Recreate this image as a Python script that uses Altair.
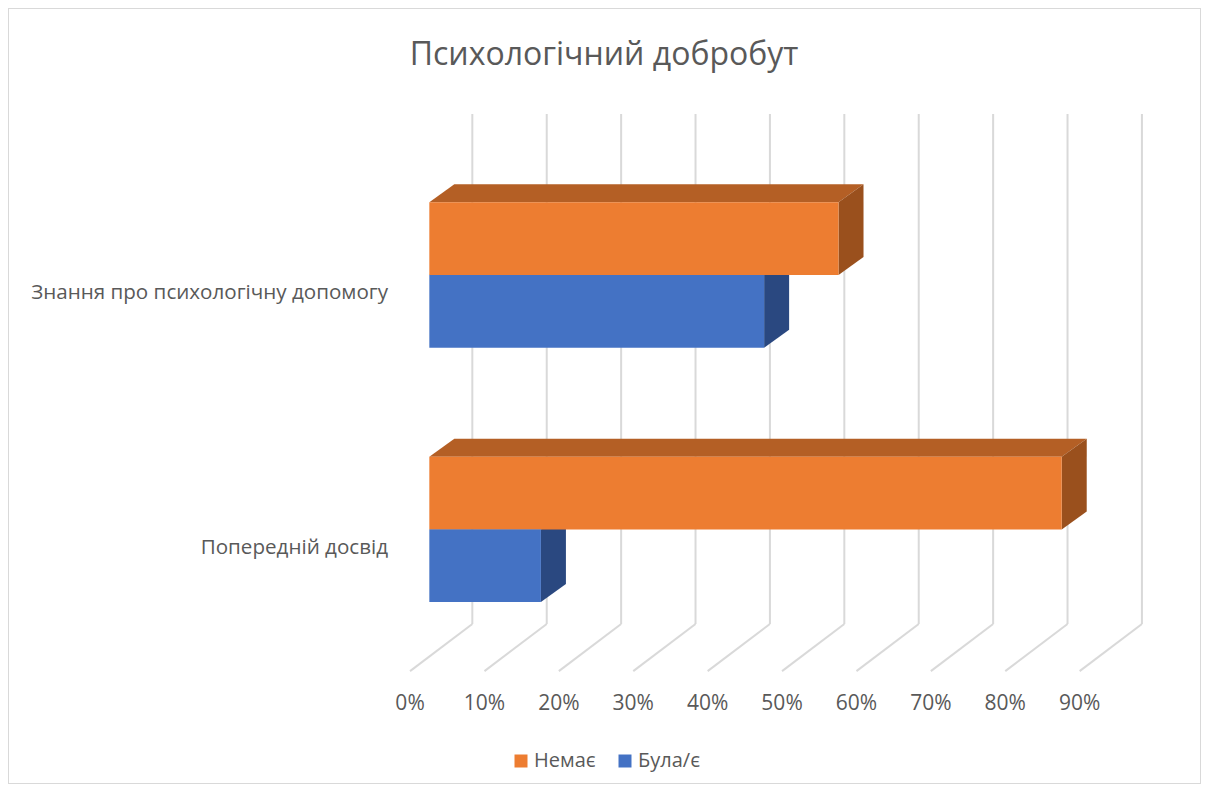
import altair as alt
import pandas as pd

# ---- data ----
categories = ["Знання про психологічну допомогу", "Попередній досвід"]
series = ["Немає", "Була/є"]
nemae = [55, 85]
bula_ye = [45, 15]
tick_values = [0, 10, 20, 30, 40, 50, 60, 70, 80, 90]
tick_labels = [f"{t}%" for t in tick_values]
title_text = "Психологічний добробут"

# ---- styling / layout constants ----
front_colors = {"Немає": "#ED7D31", "Була/є": "#4472C4"}
top_colors = {"Немає": "#B45F25", "Була/є": "#35599C"}
side_colors = {"Немає": "#9A501D", "Була/є": "#2A4880"}
TEXT = "#595959"
GRID = "#D9D9D9"
FONT = "Open Sans"

BAR_H = 0.2858      # bar thickness in category units
DXV = 3.36          # 3D depth offset along x (percent units)
DYU = 0.0708        # 3D depth offset along y (category units, upward)
GX_BACK = 5.78      # back-wall offset of gridlines
GX_FRONT = -2.59    # floor-front offset
WALL_TOP = -0.633
WALL_BOT = 1.372
FLOOR_FRONT = 1.557
TICK_BASE = 1.71
CAT_LABEL_X = -5.55
CAT_LABEL_DY = 0.0955

x_scale = alt.Scale(domain=[-56.63, 103.72], nice=False, zero=False)
y_scale = alt.Scale(domain=[-1.0495, 2.0008], nice=False, zero=False, reverse=True)

# ---- build tables ----
bars, tops, sides = [], [], []
for i, cat in enumerate(categories):
    for s, vals in zip(series, [nemae, bula_ye]):
        v = vals[i]
        if s == "Немає":
            ut, ub = i - BAR_H, i
        else:
            ut, ub = i, i + BAR_H
        bid = f"{i}-{s}"
        bars.append(dict(id=bid, series=s, category=cat, value=v, x0=0, x1=v, ut=ut, ub=ub))
        tops.append(dict(id=bid, fc=top_colors[s], u=ut, xa=0, xb=v))
        tops.append(dict(id=bid, fc=top_colors[s], u=ut - DYU, xa=DXV, xb=v + DXV))
        sides.append(dict(id=bid, fc=side_colors[s], x=v, ya=ut, yb=ub))
        sides.append(dict(id=bid, fc=side_colors[s], x=v + DXV, ya=ut - DYU, yb=ub - DYU))

bars_df = pd.DataFrame(bars)
tops_df = pd.DataFrame(tops)
sides_df = pd.DataFrame(sides)

grid_df = pd.DataFrame({
    "t": tick_values,
    "label": tick_labels,
    "xb": [t + GX_BACK for t in tick_values],
    "xf": [t + GX_FRONT for t in tick_values],
    "wt": WALL_TOP, "wb": WALL_BOT, "ff": FLOOR_FRONT, "tb": TICK_BASE,
})

cat_df = pd.DataFrame({
    "category": categories,
    "x": CAT_LABEL_X,
    "u": [i + CAT_LABEL_DY for i in range(len(categories))],
})

# ---- layers ----
wall = alt.Chart(grid_df).mark_rule(color=GRID, strokeWidth=2).encode(
    x=alt.X("xb:Q", scale=x_scale, axis=None),
    y=alt.Y("wt:Q", scale=y_scale, axis=None),
    y2="wb:Q",
)
floor = alt.Chart(grid_df).mark_rule(color=GRID, strokeWidth=2).encode(
    x=alt.X("xb:Q", scale=x_scale, axis=None),
    x2="xf:Q",
    y=alt.Y("wb:Q", scale=y_scale, axis=None),
    y2="ff:Q",
)
tick_text = alt.Chart(grid_df).mark_text(
    font=FONT, fontSize=21, color=TEXT, align="center", baseline="alphabetic"
).encode(
    x=alt.X("xf:Q", scale=x_scale, axis=None),
    y=alt.Y("tb:Q", scale=y_scale, axis=None),
    text="label:N",
)

top_faces = alt.Chart(tops_df).mark_area(orient="horizontal", opacity=1).encode(
    y=alt.Y("u:Q", scale=y_scale, axis=None, stack=None),
    x=alt.X("xa:Q", scale=x_scale, axis=None, stack=None),
    x2="xb:Q",
    fill=alt.Fill("fc:N", scale=None),
    detail="id:N",
)
side_faces = alt.Chart(sides_df).mark_area(orient="vertical", opacity=1).encode(
    x=alt.X("x:Q", scale=x_scale, axis=None, stack=None),
    y=alt.Y("ya:Q", scale=y_scale, axis=None, stack=None),
    y2="yb:Q",
    fill=alt.Fill("fc:N", scale=None),
    detail="id:N",
)
front_faces = alt.Chart(bars_df).mark_rect(opacity=1).encode(
    x=alt.X("x0:Q", scale=x_scale, axis=None),
    x2="x1:Q",
    y=alt.Y("ut:Q", scale=y_scale, axis=None),
    y2="ub:Q",
    color=alt.Color(
        "series:N",
        scale=alt.Scale(domain=series, range=[front_colors[s] for s in series]),
        legend=alt.Legend(
            title=None, orient="none", legendX=503, legendY=743,
            direction="horizontal", symbolType="square", symbolSize=169,
            symbolStrokeWidth=0, labelFont=FONT, labelFontSize=20,
            labelColor=TEXT, labelOffset=3, columnPadding=19, padding=0,
        ),
    ),
    tooltip=["category:N", "series:N", "value:Q"],
)
cat_text = alt.Chart(cat_df).mark_text(
    font=FONT, fontSize=20.6, color=TEXT, align="right", baseline="alphabetic"
).encode(
    x=alt.X("x:Q", scale=x_scale, axis=None),
    y=alt.Y("u:Q", scale=y_scale, axis=None),
    text="category:N",
)
title = alt.Chart(pd.DataFrame({"t": [title_text]})).mark_text(
    font=FONT, fontSize=32, color=TEXT, align="center", baseline="middle"
).encode(
    x=alt.value(596), y=alt.value(47), text="t:N"
)

chart = alt.layer(
    wall, floor, tick_text, top_faces, side_faces, front_faces, cat_text, title
).properties(
    width=1193, height=776, padding=0,
    autosize=alt.AutoSizeParams(type="none"),
    background="white",
).configure_view(stroke=GRID, strokeWidth=2)

chart.save("out.html", embed_options={"renderer": "svg", "actions": False})
